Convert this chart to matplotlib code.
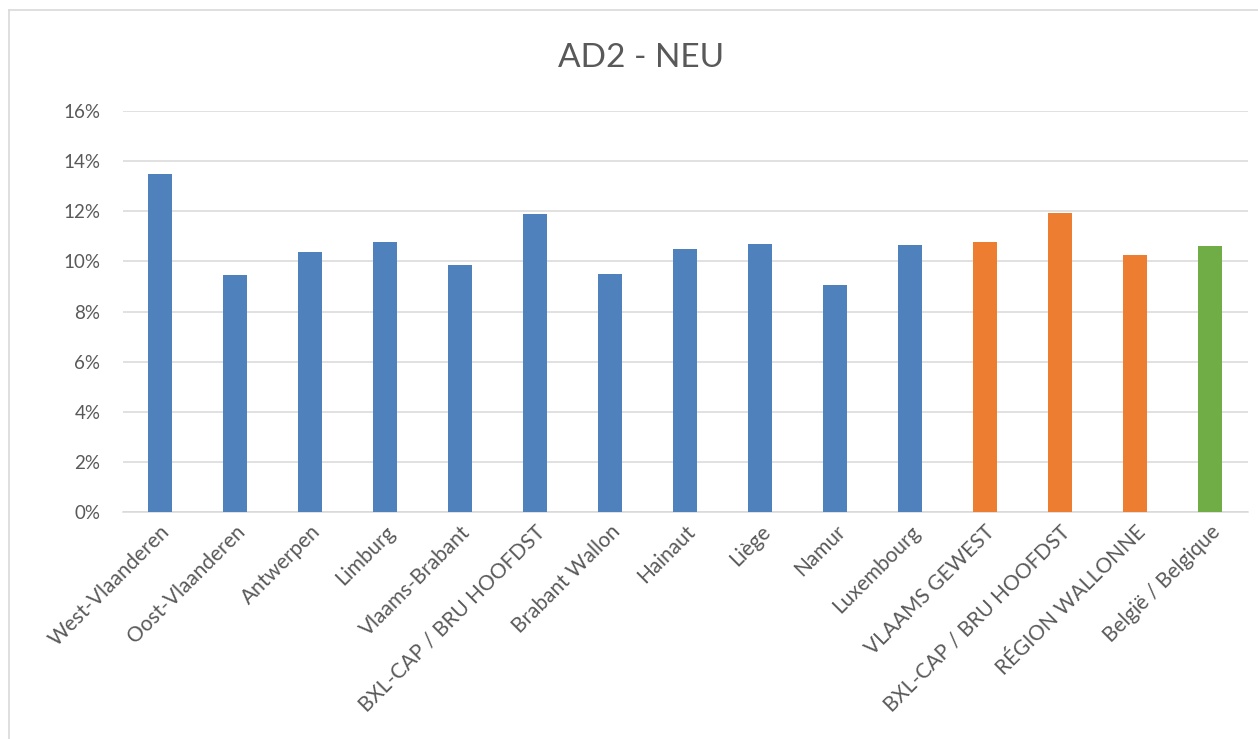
import matplotlib
matplotlib.use("Agg")
import matplotlib.pyplot as plt
from matplotlib.lines import Line2D
from matplotlib.ticker import FuncFormatter

plt.rcParams['font.family'] = ['Lato', 'DejaVu Sans']

# data (share, in %)
categories = [
    "West-Vlaanderen", "Oost-Vlaanderen", "Antwerpen", "Limburg",
    "Vlaams-Brabant", "BXL-CAP / BRU HOOFDST", "Brabant Wallon", "Hainaut",
    "Liège", "Namur", "Luxembourg", "VLAAMS GEWEST",
    "BXL-CAP / BRU HOOFDST ", "RÉGION WALLONNE", "België / Belgique",
]
values = [13.5, 9.44, 10.36, 10.76, 9.87, 11.9, 9.51, 10.49,
          10.71, 9.04, 10.67, 10.77, 11.93, 10.25, 10.61]
groups = ["prov"] * 11 + ["region"] * 3 + ["country"]
y_ticks = [0, 2, 4, 6, 8, 10, 12, 14, 16]

group_colors = {"prov": "#4F81BD", "region": "#ED7D31", "country": "#70AD47"}
text_col = "#595959"
grid_col = "#D9D9D9"

fig = plt.figure(figsize=(12.58, 7.39), dpi=100)
ax = fig.add_axes([122.5 / 1258, 1 - 512 / 739, 1125 / 1258, 401 / 739])

x = list(range(len(categories)))
ax.bar(x, values, width=0.31, color=[group_colors[g] for g in groups], zorder=3)

ax.set_xlim(-0.5, len(categories) - 0.5)
ax.set_ylim(0, 16)
ax.set_yticks(y_ticks)
ax.yaxis.set_major_formatter(FuncFormatter(lambda v, p: f"{v:.0f}%"))
ax.grid(axis="y", color=grid_col, linewidth=1.1, zorder=0)
ax.tick_params(axis="y", length=0, pad=16, labelsize=13.5, labelcolor=text_col)
ax.tick_params(axis="x", length=0, pad=7, labelsize=15, labelcolor=text_col)

ax.set_xticks(x)
ax.set_xticklabels([c.strip() for c in categories], rotation=45, ha="right",
                   va="top", rotation_mode="anchor")

for s in ["top", "right", "left"]:
    ax.spines[s].set_visible(False)
ax.spines["bottom"].set_color(grid_col)
ax.spines["bottom"].set_linewidth(1.1)

fig.text(641 / 1258, 1 - 58 / 739, "AD2 - NEU", ha="center", va="center",
         fontsize=24, color=text_col)

# light chart border (left and top)
x0 = 9 / 1258
y0 = 1 - 10 / 739
fig.add_artist(Line2D([x0, x0], [0, y0], color=grid_col, linewidth=1.2))
fig.add_artist(Line2D([x0, 1], [y0, y0], color=grid_col, linewidth=1.2))

fig.savefig("out.png", dpi=100)
